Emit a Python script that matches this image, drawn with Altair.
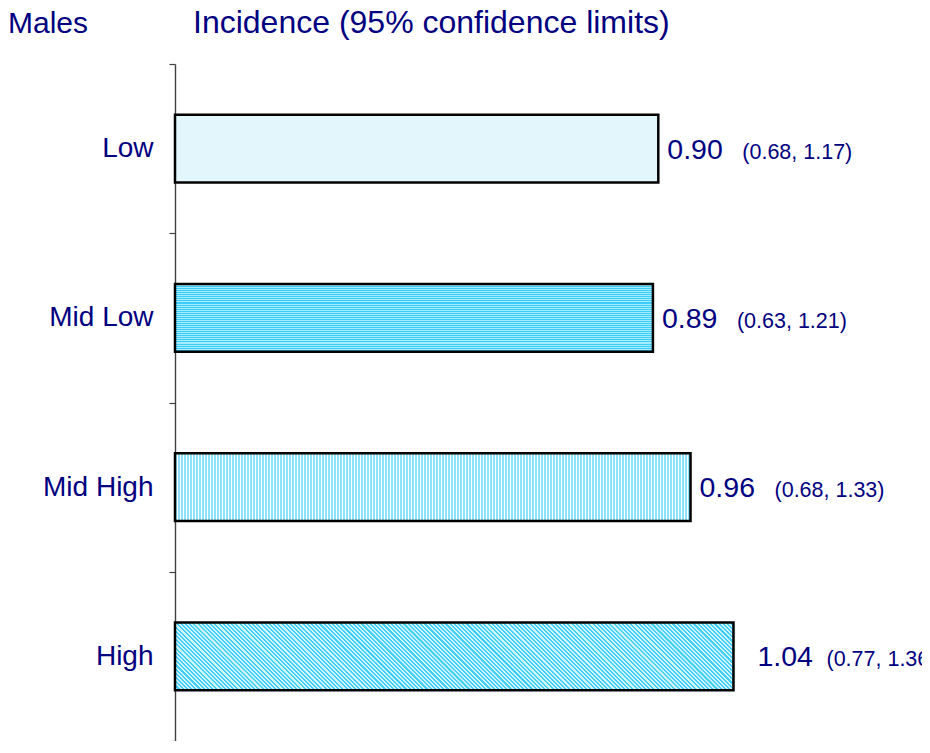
import altair as alt
import pandas as pd

categories = ["Low", "Mid Low", "Mid High", "High"]
incidence = [0.90, 0.89, 0.96, 1.04]
ci_low = [0.68, 0.63, 0.68, 0.77]
ci_high = [1.17, 1.21, 1.33, 1.36]

df = pd.DataFrame({
    "group": categories,
    "value": incidence,
    "lo": ci_low,
    "hi": ci_high,
})
df["vlabel"] = [f"{v:.2f}" for v in df["value"]]
df["cilabel"] = [f"({a:.2f}, {b:.2f})" for a, b in zip(df["lo"], df["hi"])]

W, H = 747, 677
PX_PER_UNIT = 537.0
XMAX = W / PX_PER_UNIT
NAVY = "#000080"
FONT = "Liberation Sans"
BAND = 0.4
BAR_H = BAND * H / 4


def bar_px(v):
    return v / XMAX * W


def stripes_frac(n, c1, c2, frac=0.5, **coords):
    stops = []
    for i in range(n):
        a = i / n
        m = (i + frac) / n
        b = (i + 1) / n
        stops += [
            {"offset": round(a, 6), "color": c1},
            {"offset": round(m, 6), "color": c1},
            {"offset": round(m, 6), "color": c2},
            {"offset": round(b, 6), "color": c2},
        ]
    g = {"gradient": "linear", "stops": stops}
    g.update(coords)
    return g


def stripes_px(length, period, on, c1, c2, **coords):
    stops = []
    p = 0.0
    while p < length:
        a = p / length
        m = min(1.0, (p + on) / length)
        b = min(1.0, (p + period) / length)
        stops += [
            {"offset": round(a, 6), "color": c1},
            {"offset": round(m, 6), "color": c1},
            {"offset": round(m, 6), "color": c2},
            {"offset": round(b, 6), "color": c2},
        ]
        p += period
    g = {"gradient": "linear", "stops": stops}
    g.update(coords)
    return g


fills = {}
fills["Low"] = "#e2f6fc"
fills["Mid Low"] = stripes_frac(int(BAR_H / 2), "#3ccdfb", "#a6ecff", x1=0, y1=0, x2=0, y2=1)
fills["Mid High"] = stripes_px(bar_px(0.96), 3, 1.6, "#8be2fb", "#ffffff", x1=0, y1=0, x2=1, y2=0)
wh = bar_px(1.04)
r = BAR_H / wh
c = (1 + r) / (1 + r * r)
fills["High"] = stripes_frac(int((wh + BAR_H) / 4.2), "#45cffb", "#d0f4ff",
                             x1=0, y1=1, x2=c, y2=1 - c * r)

y_enc = alt.Y(
    "group:N",
    sort=categories,
    scale=alt.Scale(paddingInner=0, paddingOuter=0),
    axis=alt.Axis(
        title=None,
        tickBand="extent",
        tickSize=6,
        tickColor="#404040",
        tickWidth=1.2,
        domainColor="#404040",
        domainWidth=1.4,
        labelFont=FONT,
        labelFontSize=28,
        labelColor=NAVY,
        labelPadding=16,
        grid=False,
    ),
)
x_enc = alt.X("value:Q", scale=alt.Scale(domain=[0, XMAX], nice=False, zero=True), axis=None)

base = alt.Chart(df)

bars = []
for cat in categories:
    bars.append(
        base.transform_filter(alt.datum.group == cat)
        .mark_bar(fill=fills[cat], stroke="black", strokeWidth=2.5,
                  height=alt.RelativeBandSize(band=BAND))
        .encode(x=x_enc, y=y_enc)
    )

normal = base.transform_filter(alt.datum.group != "High")
high = base.transform_filter(alt.datum.group == "High")


def vtext(src, dx):
    return src.mark_text(align="left", baseline="alphabetic", dx=dx, dy=10,
                         font=FONT, fontSize=28.5, color=NAVY).encode(
        x=x_enc, y=y_enc, text="vlabel:N")


def ctext(src, dx):
    return src.mark_text(align="left", baseline="alphabetic", dx=dx, dy=10,
                         font=FONT, fontSize=21.5, color=NAVY).encode(
        x=x_enc, y=y_enc, text="cilabel:N")


titles = pd.DataFrame({"t": ["Males", "Incidence (95% confidence limits)"], "k": [0, 1]})
t1 = alt.Chart(titles).transform_filter(alt.datum.k == 0).mark_text(
    align="left", baseline="alphabetic", font=FONT, fontSize=30, color=NAVY
).encode(x=alt.value(-167), y=alt.value(-31), text="t:N")
t2 = alt.Chart(titles).transform_filter(alt.datum.k == 1).mark_text(
    align="left", baseline="alphabetic", font=FONT, fontSize=32, color=NAVY
).encode(x=alt.value(18), y=alt.value(-31), text="t:N")

chart = alt.layer(
    *bars,
    vtext(normal, 9), ctext(normal, 84),
    vtext(high, 24), ctext(high, 93),
    t1, t2,
).properties(
    width=W,
    height=H,
    autosize=alt.AutoSizeParams(type="none"),
    padding={"left": 167, "top": 56, "right": 0, "bottom": 0},
).configure(background="white").configure_view(strokeWidth=0, stroke=None)

chart.save("out.html", embed_options={"renderer": "svg", "actions": False})
